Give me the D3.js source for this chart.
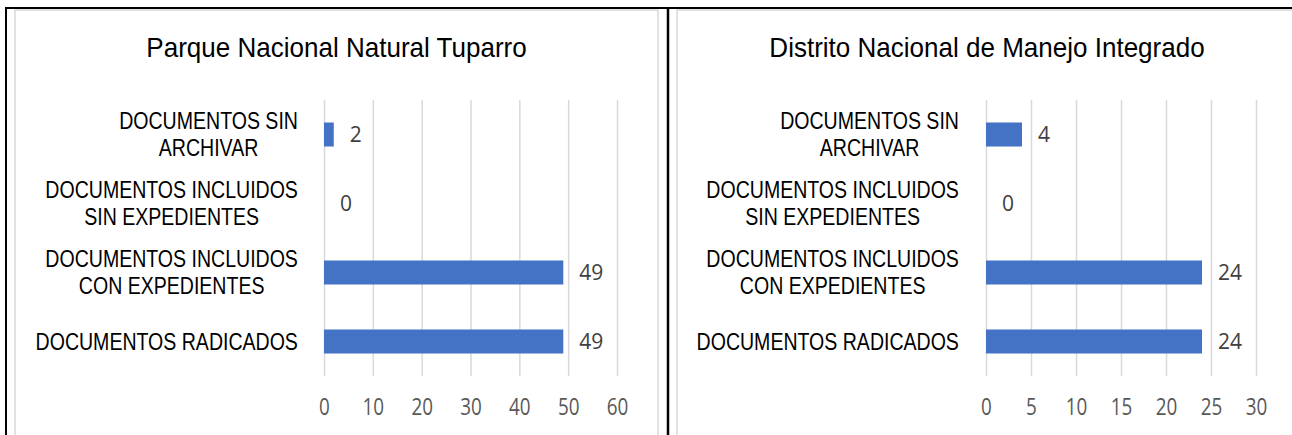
<!DOCTYPE html>
<html>
<head>
<meta charset="utf-8">
<script src="https://cdn.jsdelivr.net/npm/d3@7"></script>
<style>
  body { margin: 0; background: #fff; }
  svg { display: block; }
</style>
</head>
<body>
<script>
// datos
var categories = [
  'DOCUMENTOS SIN ARCHIVAR',
  'DOCUMENTOS INCLUIDOS SIN EXPEDIENTES',
  'DOCUMENTOS INCLUIDOS CON EXPEDIENTES',
  'DOCUMENTOS RADICADOS'
];
var categoryLines = [
  ['DOCUMENTOS SIN', 'ARCHIVAR'],
  ['DOCUMENTOS INCLUIDOS', 'SIN EXPEDIENTES'],
  ['DOCUMENTOS INCLUIDOS', 'CON EXPEDIENTES'],
  ['DOCUMENTOS RADICADOS']
];
var tuparroTitle = 'Parque Nacional Natural Tuparro';
var tuparroValues = [2, 0, 49, 49];
var tuparroTicks = [0, 10, 20, 30, 40, 50, 60];

var dnmiTitle = 'Distrito Nacional de Manejo Integrado';
var dnmiValues = [4, 0, 24, 24];
var dnmiTicks = [0, 5, 10, 15, 20, 25, 30];

var W = 1292, H = 435;
var svg = d3.select('body').append('svg')
  .attr('width', W)
  .attr('height', H);

var plotTop = 100, plotBottom = 376;
var grey = '#d9d9d9';

function sx(sel, k) {
  // texto algo comprimido en horizontal, como en la imagen
  sel.each(function () {
    var t = d3.select(this);
    var x = +t.attr('x') || 0, y = +t.attr('y') || 0;
    t.attr('x', 0).attr('y', 0)
      .attr('transform', 'translate(' + x + ',' + y + ') scale(' + k + ',1)');
  });
}

function panel(opt) {
  var g = svg.append('g');

  // marco gris del panel
  g.append('rect')
    .attr('x', opt.left).attr('y', 10)
    .attr('width', opt.right - opt.left).attr('height', H)
    .attr('fill', 'none').attr('stroke', grey).attr('stroke-width', 1.5);

  g.append('text')
    .attr('x', (opt.left + opt.right) / 2)
    .attr('y', 57)
    .attr('text-anchor', 'middle')
    .attr('font-family', 'Liberation Sans, Arial, sans-serif')
    .attr('font-size', 28)
    .attr('fill', '#000')
    .text(opt.title)
    .call(sx, 0.93);

  var x = d3.scaleLinear()
    .domain(d3.extent(opt.ticks))
    .range([opt.x0, opt.x1]);

  var y = d3.scaleBand()
    .domain(categories)
    .range([plotTop, plotBottom])
    .paddingInner(0.652)
    .paddingOuter(0.326);

  var axis = g.append('g')
    .attr('transform', 'translate(0,' + plotBottom + ')')
    .call(d3.axisBottom(x)
      .tickValues(opt.ticks)
      .tickSizeInner(-(plotBottom - plotTop))
      .tickSizeOuter(0));
  axis.select('.domain').remove();
  axis.selectAll('.tick line')
    .attr('stroke', grey)
    .attr('stroke-width', 1.5);
  axis.selectAll('.tick text')
    .attr('y', 39)
    .attr('dy', null)
    .attr('fill', '#595959')
    .attr('font-family', 'Open Sans, sans-serif')
    .attr('font-size', 23)
    .call(sx, 0.82);

  g.append('g')
    .selectAll('rect')
    .data(opt.values)
    .enter().append('rect')
    .attr('x', x(0))
    .attr('y', function (d, i) { return y(categories[i]); })
    .attr('width', function (d) { return x(d) - x(0); })
    .attr('height', y.bandwidth())
    .attr('fill', '#4472c4');

  g.append('g')
    .selectAll('text')
    .data(opt.values)
    .enter().append('text')
    .attr('x', function (d) { return x(d) + 16; })
    .attr('y', function (d, i) { return y(categories[i]) + y.bandwidth() / 2 + 7.5; })
    .attr('fill', '#404040')
    .attr('font-family', 'Open Sans, sans-serif')
    .attr('font-size', 21)
    .text(function (d) { return d; });

  // etiquetas de categoria: lineas centradas, bloque alineado a la derecha
  var k = 0.85, lineH = 27;
  var labels = g.append('g')
    .attr('font-family', 'Liberation Sans, Arial, sans-serif')
    .attr('font-size', 23)
    .attr('fill', '#000')
    .selectAll('g')
    .data(categoryLines)
    .enter().append('g');

  labels.each(function (lines, i) {
    var lg = d3.select(this);
    var cy = y(categories[i]) + y.bandwidth() / 2;
    var ts = lg.selectAll('text')
      .data(lines)
      .enter().append('text')
      .attr('text-anchor', 'middle')
      .attr('y', function (d, j) { return cy + (j - (lines.length - 1) / 2) * lineH + 8.3; })
      .text(function (d) { return d; });
    var maxW = d3.max(ts.nodes(), function (n) { return n.getComputedTextLength(); }) * k;
    ts.attr('x', opt.labelRight - maxW / 2).call(sx, k);
  });
}

panel({
  left: 15, right: 658,
  x0: 324, x1: 617, labelRight: 298,
  title: tuparroTitle, values: tuparroValues, ticks: tuparroTicks
});

panel({
  left: 677, right: 1297,
  x0: 986, x1: 1256, labelRight: 959,
  title: dnmiTitle, values: dnmiValues, ticks: dnmiTicks
});

// marco negro exterior
svg.append('line')
  .attr('x1', 5).attr('x2', W).attr('y1', 8).attr('y2', 8)
  .attr('stroke', '#000').attr('stroke-width', 2);
svg.append('line')
  .attr('x1', 6).attr('x2', 6).attr('y1', 7).attr('y2', H)
  .attr('stroke', '#000').attr('stroke-width', 2);
svg.append('line')
  .attr('x1', 668).attr('x2', 668).attr('y1', 7).attr('y2', H)
  .attr('stroke', '#000').attr('stroke-width', 2.5);
</script>
</body>
</html>
